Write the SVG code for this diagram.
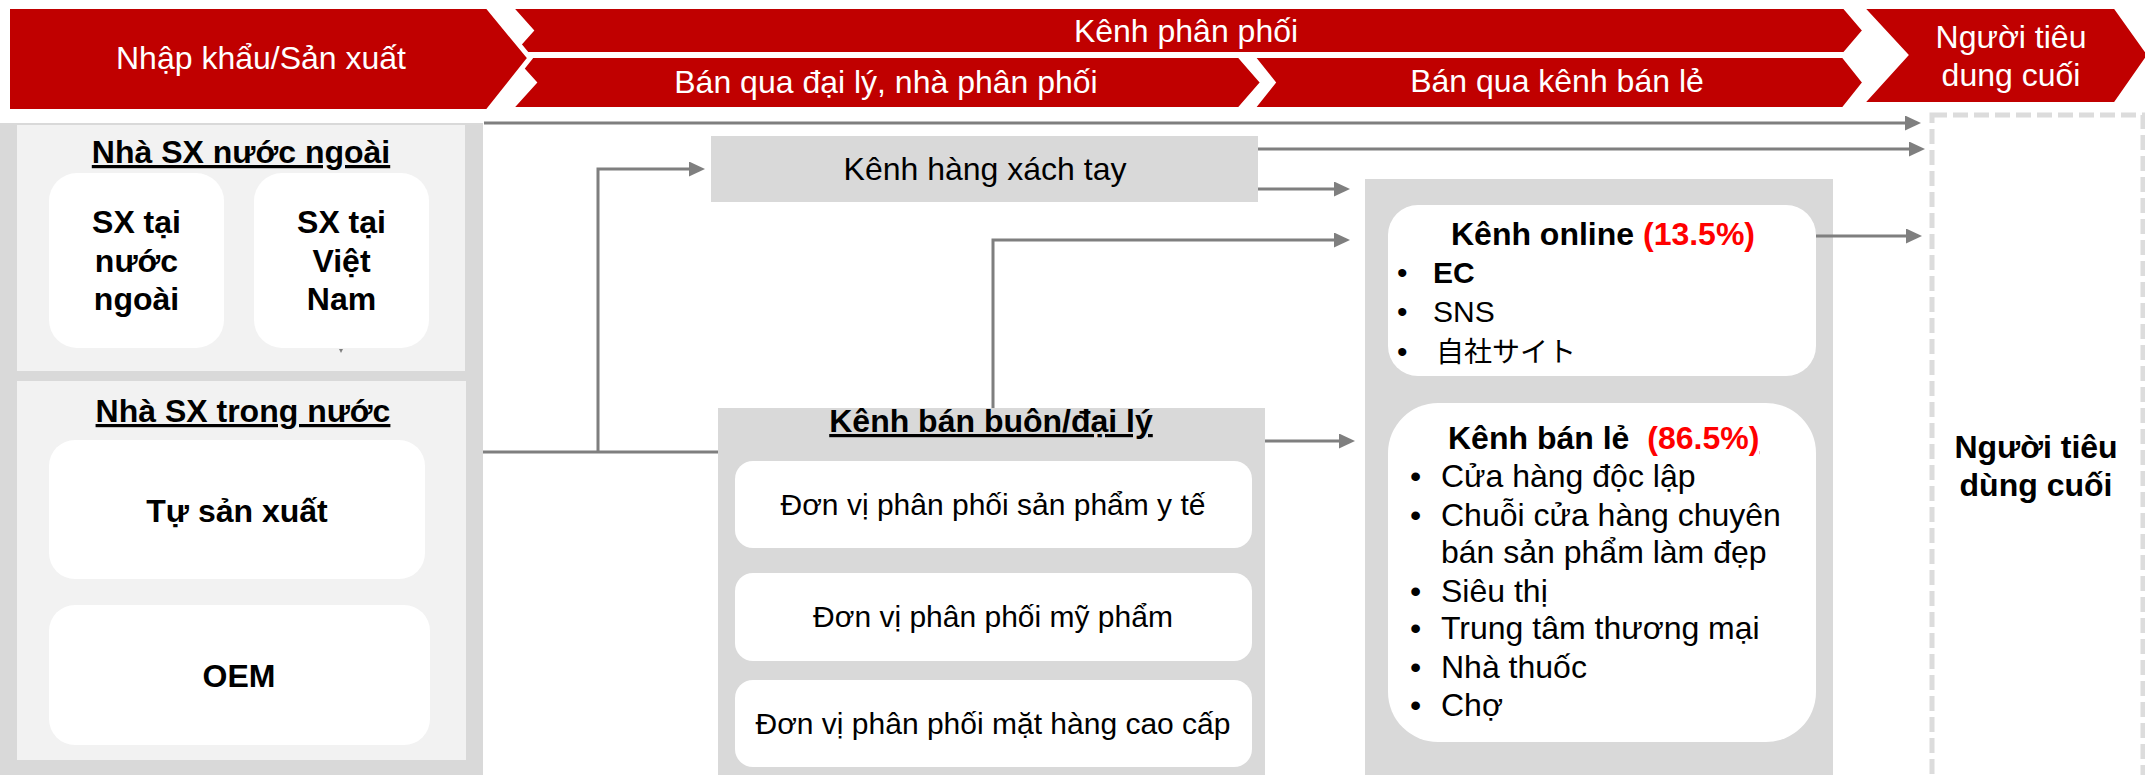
<svg xmlns="http://www.w3.org/2000/svg" width="2145" height="775" viewBox="0 0 2145 775">
<defs>
<style>
text{font-family:"Liberation Sans",Arial,"Noto Sans CJK JP",sans-serif;fill:#000}
.hdr{fill:#c00000;stroke:#fff;stroke-width:5;stroke-linejoin:miter}
.ht{fill:#fff;font-size:32px;text-anchor:middle}
.b{font-weight:bold}
.c{text-anchor:middle}
.u{text-decoration:underline}
.f32{font-size:32px}
.f30{font-size:30px}
.f28{font-size:28px}
.red{fill:#ff0000}
.panel{fill:#d9d9d9}
.light{fill:#f2f2f2}
.card{fill:#fff}
.conn{fill:none;stroke:#7f7f7f;stroke-width:3}
</style>
<marker id="ah" markerUnits="userSpaceOnUse" markerWidth="17" markerHeight="16" refX="11" refY="7.5" orient="auto">
<path d="M0,0 L16,7.5 L0,15 z" fill="#7f7f7f"/>
</marker>
</defs>

<g id="header">
<polygon class="hdr" points="509.5,6.5 1844.5,6.5 1865,30.5 1844.5,54.5 509.5,54.5 531,30.5"/>
<polygon class="hdr" points="509.5,55.5 1239.5,55.5 1263,82.5 1239.5,109.5 509.5,109.5 534,82.5"/>
<polygon class="hdr" points="1251.5,55.5 1843.5,55.5 1865,82.5 1843.5,109.5 1251.5,109.5 1273,82.5"/>
<polygon class="hdr" points="7.5,6.5 487.5,6.5 530,58 487.5,111.5 7.5,111.5"/>
<polygon class="hdr" points="1860.5,6.5 2115.5,6.5 2150,55 2115.5,104.5 1860.5,104.5 1905.5,55"/>
<text class="ht" x="261" y="69">Nhập khẩu/Sản xuất</text>
<text class="ht" x="1186" y="42">Kênh phân phối</text>
<text class="ht" x="886" y="93">Bán qua đại lý, nhà phân phối</text>
<text class="ht" x="1557" y="92">Bán qua kênh bán lẻ</text>
<text class="ht" x="2011" y="48">Người tiêu</text>
<text class="ht" x="2011" y="86">dung cuối</text>
</g>

<g id="producers">
<rect class="panel" x="0" y="123" width="483" height="652"/>
<rect class="light" x="17" y="125" width="448" height="246"/>
<rect class="light" x="17" y="381" width="449" height="379"/>
<polygon points="339,349 343,349 341,353" fill="#7f7f7f"/>
</g>

<g id="foreign">
<text class="b c u f32" x="241" y="163">Nhà SX nước ngoài</text>
</g>
<g id="sx-nuoc-ngoai">
<rect class="card" x="49" y="173" width="175" height="175" rx="28"/>
<text class="b c f32" x="136.5" y="233">SX tại</text>
<text class="b c f32" x="136.5" y="272">nước</text>
<text class="b c f32" x="136.5" y="310">ngoài</text>
</g>
<g id="sx-viet-nam">
<rect class="card" x="254" y="173" width="175" height="175" rx="28"/>
<text class="b c f32" x="341.5" y="233">SX tại</text>
<text class="b c f32" x="341.5" y="272">Việt</text>
<text class="b c f32" x="341.5" y="310">Nam</text>
</g>

<g id="domestic">
<text class="b c u f32" x="243" y="422">Nhà SX trong nước</text>
</g>
<g id="tu-san-xuat">
<rect class="card" x="49" y="440" width="376" height="139" rx="26"/>
<text class="b c f32" x="237" y="522">Tự sản xuất</text>
</g>
<g id="oem">
<rect class="card" x="49" y="605" width="381" height="140" rx="26"/>
<text class="b c f32" x="239" y="687">OEM</text>
</g>

<g id="xach-tay">
<rect class="panel" x="711" y="136" width="547" height="66"/>
<text class="c f32" x="985" y="180">Kênh hàng xách tay</text>
</g>

<g id="ban-buon">
<rect class="panel" x="718" y="408" width="547" height="367"/>
<text class="b c u f32" x="991" y="432">Kênh bán buôn/đại lý</text>
</g>
<g id="pp-y-te">
<rect class="card" x="735" y="461" width="517" height="87" rx="18"/>
<text class="c f30" x="993" y="515">Đơn vị phân phối sản phẩm y tế</text>
</g>
<g id="pp-my-pham">
<rect class="card" x="735" y="573" width="517" height="88" rx="18"/>
<text class="c f30" x="993" y="627">Đơn vị phân phối mỹ phẩm</text>
</g>
<g id="pp-cao-cap">
<rect class="card" x="735" y="680" width="517" height="87" rx="18"/>
<text class="c f30" x="993" y="734">Đơn vị phân phối mặt hàng cao cấp</text>
</g>

<g id="retail-area">
<rect class="panel" x="1365" y="179" width="468" height="596"/>
</g>
<g id="online">
<rect class="card" x="1388" y="205" width="428" height="171" rx="30"/>
<text class="b c f32" x="1603" y="245">Kênh online <tspan class="red">(13.5%)</tspan></text>
<text class="f30" x="1397" y="283">•</text><text class="f30 b" x="1433" y="283">EC</text>
<text class="f30" x="1397" y="322">•</text><text class="f30" x="1433" y="322">SNS</text>
<text class="f30" x="1397" y="362">•</text><text class="f28" x="1436" y="362">自社サイト</text>
</g>
<g id="ban-le">
<rect class="card" x="1388" y="403" width="428" height="339" rx="50"/>
<text class="b f32" x="1448" y="449">Kênh bán lẻ <tspan class="red" dx="9">(86.5%</tspan><tspan class="red u">)</tspan></text>
<text class="f32" x="1410" y="487">•</text><text class="f32" x="1441" y="487">Cửa hàng độc lập</text>
<text class="f32" x="1410" y="526">•</text><text class="f32" x="1441" y="526">Chuỗi cửa hàng chuyên</text>
<text class="f32" x="1441" y="563">bán sản phẩm làm đẹp</text>
<text class="f32" x="1410" y="602">•</text><text class="f32" x="1441" y="602">Siêu thị</text>
<text class="f32" x="1410" y="639">•</text><text class="f32" x="1441" y="639">Trung tâm thương mại</text>
<text class="f32" x="1410" y="678">•</text><text class="f32" x="1441" y="678">Nhà thuốc</text>
<text class="f32" x="1410" y="716">•</text><text class="f32" x="1441" y="716">Chợ</text>
</g>

<g id="consumer">
<rect x="1932" y="115" width="211" height="675" fill="none" stroke="#dcdcdc" stroke-width="5" stroke-dasharray="15 6"/>
<text class="b c f32" x="2036" y="458">Người tiêu</text>
<text class="b c f32" x="2036" y="496">dùng cuối</text>
</g>

<g id="connectors">
<path class="conn" d="M484,123 H1916" marker-end="url(#ah)"/>
<path class="conn" d="M1258,149 H1920" marker-end="url(#ah)"/>
<path class="conn" d="M1258,189 H1345" marker-end="url(#ah)"/>
<path class="conn" d="M483,452 H718"/>
<path class="conn" d="M598,452 V169 H700" marker-end="url(#ah)"/>
<path class="conn" d="M993,408 V240 H1345" marker-end="url(#ah)"/>
<path class="conn" d="M1265,441 H1350" marker-end="url(#ah)"/>
<path class="conn" d="M1816,236 H1917" marker-end="url(#ah)"/>
</g>
</svg>
